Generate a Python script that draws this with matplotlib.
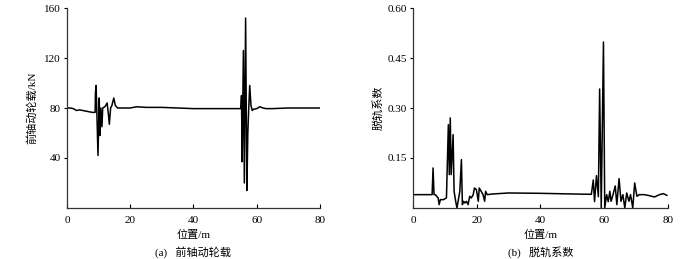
import matplotlib
matplotlib.use("Agg")
import matplotlib.pyplot as plt

plt.rcParams['font.family'] = ['Liberation Serif', 'Noto Sans CJK SC', 'DejaVu Sans']

# (a) front axle dynamic wheel load
load_x = [0, 1, 2, 3, 4, 5, 6, 7, 8, 8.9, 9.0, 9.2, 9.5, 9.8, 10.2, 10.4, 10.7, 11.05, 11.3, 11.6,
          12.0, 12.7, 13.1, 13.4, 13.8, 14.2, 14.8, 15.3, 16, 18, 20, 22, 25, 30, 35, 40,
          45, 50, 55.0, 55.2, 55.4, 55.8, 56.1, 56.5, 56.9, 57.2, 57.5, 57.8, 58.2, 58.6, 59,
          60, 61, 62, 63, 65, 70, 75, 80]
load_y = [80, 80, 79.5, 78, 78.5, 78, 77.5, 77, 76.5, 76.5, 92, 98, 72, 42, 88, 58, 80, 65, 80, 80.5,
          81, 84, 75, 67, 80, 82, 88, 82, 80, 80, 80, 81, 80.5, 80.5, 80, 79.5,
          79.5, 79.5, 79.5, 90, 37, 126, 20, 152, 14, 60, 80, 98, 82, 78, 79,
          79.5, 81, 80, 79.5, 79.5, 80, 80, 80]

# (b) derailment coefficient
der_x = [0, 3, 6.0, 6.3, 6.6, 7.0, 7.9, 8.2, 8.6, 9.5, 10.5, 11.1, 11.4, 11.7, 12.0, 12.6, 12.9,
         13.4, 13.8, 14.7, 15.2, 15.5, 15.9, 16.3, 16.8, 17.3, 17.8, 18.3, 18.9, 19.3, 19.9,
         20.5, 20.8, 21.4, 22.0, 22.5, 22.8, 23.3, 25, 30, 40, 50, 56.0, 56.6, 57.0, 57.6,
         58.2, 58.6, 59.1, 59.8, 60.2, 60.8, 61.3, 61.8, 62.2, 62.8, 63.5, 64.0, 64.7, 65.3,
         65.9, 66.5, 67.1, 67.8, 68.3, 69.0, 69.6, 70.3, 71, 72.6, 74.2, 75.8, 77.4, 78.6, 79.7]
der_y = [0.04, 0.04, 0.04, 0.12, 0.04, 0.04, 0.03, 0.01, 0.025, 0.025, 0.03, 0.25, 0.1, 0.27, 0.1,
         0.22, 0.05, 0.02, 0.0, 0.05, 0.145, 0.01, 0.02, 0.015, 0.02, 0.01, 0.035, 0.03, 0.04,
         0.06, 0.055, 0.02, 0.06, 0.05, 0.04, 0.02, 0.05, 0.04, 0.042, 0.045, 0.044, 0.042,
         0.041, 0.084, 0.019, 0.097, 0.034, 0.357, 0.0, 0.498, 0.0, 0.04, 0.019, 0.05, 0.02,
         0.04, 0.066, 0.01, 0.088, 0.02, 0.04, 0.0, 0.045, 0.02, 0.04, 0.0, 0.075, 0.035, 0.04,
         0.04, 0.037, 0.033, 0.04, 0.043, 0.038]

xticks = [0, 20, 40, 60, 80]
load_ticks = [40, 80, 120, 160]
der_ticks = [0.15, 0.30, 0.45, 0.60]

fig = plt.figure(figsize=(7.0, 2.59), dpi=100)
ax1 = fig.add_axes([0.0957, 0.197, 0.3613, 0.772])
ax2 = fig.add_axes([0.590, 0.197, 0.364, 0.772])

fs = 8
for ax in (ax1, ax2):
    ax.spines['top'].set_visible(False)
    ax.spines['right'].set_visible(False)
    for s in ('left', 'bottom'):
        ax.spines[s].set_color('#333333')
        ax.spines[s].set_linewidth(0.9)
    ax.set_xlim(0, 80)
    ax.set_xticks(xticks)
    ax.tick_params(axis='x', direction='in', length=3, width=0.8, labelsize=fs, pad=6)
    ax.tick_params(axis='y', direction='out', length=2.5, width=0.8, labelsize=fs, pad=2)
    ax.set_xlabel('位置/m', fontsize=8, labelpad=3)

ax1.plot(load_x, load_y, color='black', lw=1.1)
ax1.set_ylim(0, 160)
ax1.set_yticks(load_ticks)
ax1.set_ylabel('前轴动轮载/kN', fontsize=8, labelpad=5)

ax2.plot(der_x, der_y, color='black', lw=1.1)
ax2.set_ylim(0, 0.60)
ax2.set_yticks(der_ticks)
ax2.set_yticklabels(['0.15', '0.30', '0.45', '0.60'])
ax2.set_ylabel('脱轨系数', fontsize=8, labelpad=3)

fig.text(0.276, 0.028, '(a)   前轴动轮载', ha='center', va='center', fontsize=8)
fig.text(0.772, 0.028, '(b)   脱轨系数', ha='center', va='center', fontsize=8)

fig.savefig('out.png', dpi=100, facecolor='white')
